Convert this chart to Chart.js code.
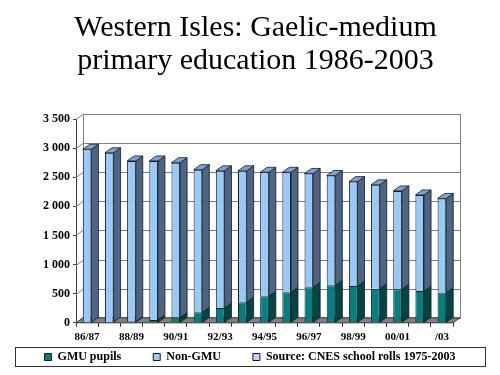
<!DOCTYPE html>
<html>
<head>
<meta charset="utf-8">
<script src="https://cdn.jsdelivr.net/npm/chart.js@4.4.1/dist/chart.umd.min.js"></script>
<style>
  html, body { margin: 0; padding: 0; background: #fff; }
</style>
</head>
<body>
<canvas id="chart" width="500" height="375"></canvas>
<script>
// School years and the labels actually printed under the axis
const years = ['86/87', '87/88', '88/89', '89/90', '90/91', '91/92', '92/93', '93/94', '94/95',
               '95/96', '96/97', '97/98', '98/99', '99/00', '00/01', '01/02', '02/03'];
const tickLabels = ['86/87', '', '88/89', '', '90/91', '', '92/93', '', '94/95',
                    '', '96/97', '', '98/99', '', '00/01', '', '/03'];

// Pupils
const gmuPupils = [0, 15, 20, 50, 90, 180, 255, 355, 455, 525, 610, 645, 630, 585, 575, 545, 520];
const nonGmu = [2980, 2905, 2760, 2730, 2660, 2450, 2355, 2255, 2130, 2060, 1955, 1885, 1795, 1785, 1690, 1650, 1615];
const sourceNote = [];

const yMax = 3500;
const yStep = 500;

// depth of the fake 3D
const DX = 7, DY = 5;
const sideColors = ['#004646', '#4d6484', '#8080b0'];
const topColors = ['#006a6a', '#7ba3cf', '#aaaadd'];

function dotPattern(base, dot) {
    const c = document.createElement('canvas');
    c.width = 4; c.height = 4;
    const g = c.getContext('2d');
    g.fillStyle = base;
    g.fillRect(0, 0, 4, 4);
    g.fillStyle = dot;
    g.fillRect(0, 0, 1, 1);
    g.fillRect(2, 2, 1, 1);
    return g.createPattern(c, 'repeat');
}

function spaced(v) {
    return String(v).replace(/\B(?=(\d{3})+(?!\d))/g, ' ');
}

const depthPlugin = {
    id: 'depth',
    beforeDatasetsDraw(chart) {
        const { ctx, chartArea: a, scales: { y } } = chart;
        ctx.save();
        ctx.lineWidth = 1;
        ctx.strokeStyle = '#808080';
        // back wall frame
        ctx.strokeRect(a.left + DX + 0.5, a.top - DY + 0.5, a.width, a.height);
        // grid lines on back wall and left wall
        y.ticks.forEach(t => {
            const py = Math.round(y.getPixelForValue(t.value)) + 0.5;
            ctx.beginPath();
            ctx.moveTo(a.left, py);
            ctx.lineTo(a.left + DX, py - DY);
            ctx.lineTo(a.right + DX, py - DY);
            ctx.stroke();
        });
        // floor
        ctx.beginPath();
        ctx.moveTo(a.left, a.bottom);
        ctx.lineTo(a.right, a.bottom);
        ctx.lineTo(a.right + DX, a.bottom - DY);
        ctx.lineTo(a.left + DX, a.bottom - DY);
        ctx.closePath();
        ctx.fillStyle = '#808080';
        ctx.fill();
        ctx.strokeStyle = '#333';
        ctx.stroke();
        ctx.restore();
    },
    afterDatasetsDraw(chart) {
        const ctx = chart.ctx;
        const metas = chart.getSortedVisibleDatasetMetas();
        ctx.save();
        ctx.lineWidth = 0.8;
        ctx.strokeStyle = '#1a1a1a';
        metas.forEach(meta => {
            meta.data.forEach((bar, i) => {
                const { x, y, base, width } = bar.getProps(['x', 'y', 'base', 'width'], true);
                if (Math.abs(base - y) < 0.5) return;
                const xl = x - width / 2, xr = x + width / 2;
                // right side
                ctx.beginPath();
                ctx.moveTo(xr, y);
                ctx.lineTo(xr + DX, y - DY);
                ctx.lineTo(xr + DX, base - DY);
                ctx.lineTo(xr, base);
                ctx.closePath();
                ctx.fillStyle = sideColors[meta.index];
                ctx.fill();
                ctx.stroke();
                // top only on the highest segment
                const above = metas.filter(m => m.index > meta.index)
                    .some(m => m.data[i] && Math.abs(m.data[i].base - m.data[i].y) >= 0.5);
                if (!above) {
                    ctx.beginPath();
                    ctx.moveTo(xl, y);
                    ctx.lineTo(xl + DX, y - DY);
                    ctx.lineTo(xr + DX, y - DY);
                    ctx.lineTo(xr, y);
                    ctx.closePath();
                    ctx.fillStyle = topColors[meta.index];
                    ctx.fill();
                    ctx.stroke();
                }
            });
        });
        ctx.restore();
    }
};

// small layout tweaks: title a bit right, legend items up, frame round the legend
const legendFrame = {
    id: 'legendFrame',
    afterLayout(chart) {
        chart.titleBlock.left += 11;
        const lg = chart.legend;
        // only move the top, the legend clips to top..bottom
        lg.top -= lg.options.labels.padding - 3;
    },
    afterDraw(chart) {
        const boxes = chart.legend.legendHitBoxes;
        if (!boxes || !boxes.length) return;
        const left = Math.min(...boxes.map(b => b.left)) - 30;
        const right = Math.max(...boxes.map(b => b.left + b.width)) + 29;
        const top = boxes[0].top - 4;
        const bottom = boxes[0].top + boxes[0].height + 3;
        const ctx = chart.ctx;
        ctx.save();
        ctx.strokeStyle = '#333';
        ctx.lineWidth = 1;
        ctx.strokeRect(Math.round(left) + 0.5, Math.round(top) + 0.5, Math.round(right - left), Math.round(bottom - top));
        ctx.restore();
    }
};

Chart.defaults.font.family = "'Liberation Serif', 'Times New Roman', serif";
Chart.defaults.color = '#000';

new Chart(document.getElementById('chart'), {
    type: 'bar',
    data: {
        labels: years,
        datasets: [{
            label: 'GMU pupils',
            data: gmuPupils,
            backgroundColor: '#008080',
            borderColor: '#1a1a1a',
            borderWidth: 1
        }, {
            label: 'Non-GMU',
            data: nonGmu,
            backgroundColor: dotPattern('#99ccff', '#84b6ea'),
            borderColor: '#1a1a1a',
            borderWidth: 1
        }, {
            label: 'Source: CNES school rolls 1975-2003',
            data: sourceNote,
            backgroundColor: '#ccccff',
            borderColor: '#1a1a1a',
            borderWidth: 1
        }]
    },
    options: {
        responsive: false,
        animation: false,
        devicePixelRatio: 1,
        datasets: {
            bar: { categoryPercentage: 1, barPercentage: 0.39 }
        },
        layout: {
            padding: { left: 0, right: 0, top: 0, bottom: 7 }
        },
        plugins: {
            title: {
                display: true,
                text: ['Western Isles: Gaelic-medium', 'primary education 1986-2003'],
                font: { size: 30, weight: 'normal', lineHeight: 1.1 },
                padding: { top: 12, bottom: 41 },
                color: '#000'
            },
            legend: {
                position: 'bottom',
                maxHeight: 20,
                labels: {
                    boxWidth: 7,
                    boxHeight: 7,
                    padding: 32,
                    font: { size: 12, weight: 'bold' },
                    color: '#000'
                }
            },
            tooltip: { enabled: false }
        },
        scales: {
            x: {
                stacked: true,
                offset: true,
                grid: { display: true, drawOnChartArea: false, tickLength: 4, color: '#333', offset: true },
                border: { display: false },
                ticks: {
                    autoSkip: false,
                    maxRotation: 0,
                    padding: 4,
                    font: { size: 11, weight: 'bold' },
                    callback: (v, i) => tickLabels[i]
                }
            },
            y: {
                stacked: true,
                min: 0,
                max: yMax,
                afterFit: s => { s.width = 76; },
                grid: { drawOnChartArea: false, tickLength: 3, color: '#404040' },
                border: { display: true, color: '#404040' },
                ticks: {
                    stepSize: yStep,
                    padding: 3,
                    font: { size: 12, weight: 'bold' },
                    callback: v => spaced(v)
                }
            },
            // empty right-hand axis, only keeps room for the 3D depth
            yRight: {
                type: 'linear',
                position: 'right',
                afterFit: s => { s.width = 47; },
                grid: { display: false },
                border: { display: false },
                ticks: { display: false }
            }
        }
    },
    plugins: [depthPlugin, legendFrame]
});
</script>
</body>
</html>
